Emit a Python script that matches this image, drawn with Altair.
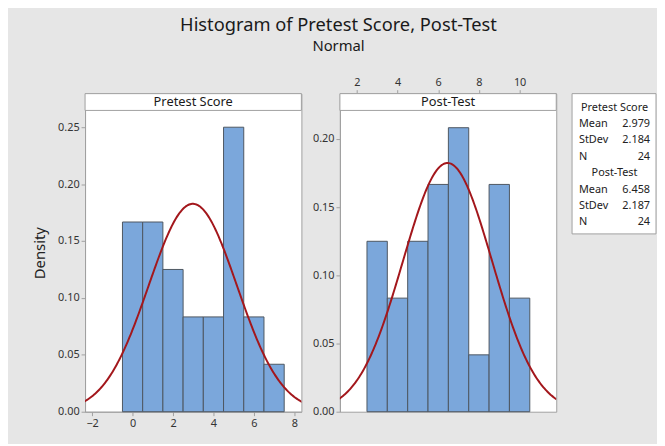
import altair as alt
import pandas as pd

# ---------------- data ----------------
pre_bins = [0, 1, 2, 3, 4, 5, 6, 7]
pre_density = [0.1667, 0.1667, 0.125, 0.0833, 0.0833, 0.25, 0.0833, 0.0417]
post_bins = [3, 4, 5, 6, 7, 8, 9, 10]
post_density = [0.125, 0.0833, 0.125, 0.1667, 0.2083, 0.0417, 0.1667, 0.0833]

series_names = ["Pretest Score", "Post-Test"]
series_means = [2.979, 6.458]
series_sds = [2.184, 2.187]
series_ns = [24, 24]

pre_xticks = [-2, 0, 2, 4, 6, 8]
post_xticks = [2, 4, 6, 8, 10]
pre_yticks = [0.0, 0.05, 0.10, 0.15, 0.20, 0.25]
post_yticks = [0.0, 0.05, 0.10, 0.15, 0.20]

pre_xdomain = [-2.35, 8.35]
post_xdomain = [1.17, 11.8]
pre_ydomain = [0, 0.2795]
post_ydomain = [0, 0.2333]

# ---------------- style ----------------
FONT = "Noto Sans"
BAR = "#7BA7DB"
EDGE = "#4D5661"
RED = "#A3171C"
FRAME = "#A0A0A0"
BG = "#E6E6E6"
PW, PH = 219, 322
HEAD = 17


def panel(name, bins, dens, mean, sd, xdom, ydom, xticks, yticks, xorient, ytitle):
    df = pd.DataFrame({"mid": bins, "density": dens})
    xs = alt.Scale(domain=xdom, nice=False, zero=False)
    ys = alt.Scale(domain=ydom, nice=False, zero=False)
    xaxis = alt.Axis(orient=xorient, values=xticks, title=None, format="d")
    yaxis = alt.Axis(values=yticks, format=".2f", title=ytitle)
    bars = (
        alt.Chart(df)
        .transform_calculate(lo="datum.mid - 0.5", hi="datum.mid + 0.5", zero="0")
        .mark_rect(fill=BAR, stroke=EDGE, strokeWidth=1)
        .encode(
            x=alt.X("lo:Q", scale=xs, axis=xaxis),
            x2="hi:Q",
            y=alt.Y("density:Q", scale=ys, axis=yaxis),
            y2="zero:Q",
        )
    )
    curve = (
        alt.Chart(alt.sequence(xdom[0] - 0.05, xdom[1] + 0.06, 0.05, as_="x"))
        .transform_calculate(
            d=f"exp(-0.5*pow((datum.x-({mean}))/{sd},2))/({sd}*sqrt(2*PI))"
        )
        .mark_line(color=RED, strokeWidth=2, clip=True)
        .encode(x=alt.X("x:Q", scale=xs, axis=xaxis),
                y=alt.Y("d:Q", scale=ys, axis=yaxis))
    )
    hdf = pd.DataFrame({"label": [name]})
    hrect = alt.Chart(hdf).mark_rect(fill="white", stroke=FRAME, strokeWidth=1).encode(
        x=alt.value(0), x2=alt.value(PW), y=alt.value(0), y2=alt.value(HEAD)
    )
    htext = alt.Chart(hdf).mark_text(
        font=FONT, fontSize=13, color="#1a1a1a", baseline="middle", align="center"
    ).encode(x=alt.value(PW / 2), y=alt.value(HEAD / 2 + 0.5), text="label:N")
    return alt.layer(bars, curve, hrect, htext).properties(
        width=PW, height=PH,
        view=alt.ViewBackground(fill="white", stroke=FRAME, strokeWidth=1),
    )


left = panel(series_names[0], pre_bins, pre_density, series_means[0], series_sds[0],
             pre_xdomain, pre_ydomain, pre_xticks, pre_yticks, "bottom", "Density")
right = panel(series_names[1], post_bins, post_density, series_means[1], series_sds[1],
              post_xdomain, post_ydomain, post_xticks, post_yticks, "top", None)

# ---------------- stats box ----------------
rows = []
r = 0
for nm, m, s, n in zip(series_names, series_means, series_sds, series_ns):
    rows.append({"row": r, "label": nm, "value": "", "kind": "head"})
    rows.append({"row": r + 1, "label": "Mean", "value": f"{m:.3f}", "kind": "item"})
    rows.append({"row": r + 2, "label": "StDev", "value": f"{s:.3f}", "kind": "item"})
    rows.append({"row": r + 3, "label": "N", "value": f"{n}", "kind": "item"})
    r += 4
sdf = pd.DataFrame(rows)
SX = 6  # box offset inside its (transparent) view
SW = 85
ysc = alt.Scale(domain=[-0.85, 7.7], reverse=True, nice=False, zero=False)
sbase = alt.Chart(sdf)
box = alt.Chart(pd.DataFrame({"k": [0]})).mark_rect(
    fill="white", stroke=FRAME, strokeWidth=1
).encode(x=alt.value(SX), x2=alt.value(SX + SW), y=alt.value(0), y2=alt.value(142))
heads = sbase.transform_filter("datum.kind == 'head'").mark_text(
    font=FONT, fontSize=11, color="#222", align="center", baseline="middle"
).encode(x=alt.value(SX + 43), y=alt.Y("row:Q", scale=ysc, axis=None), text="label:N")
labels = sbase.transform_filter("datum.kind == 'item'").mark_text(
    font=FONT, fontSize=11, color="#222", align="left", baseline="middle"
).encode(x=alt.value(SX + 7), y=alt.Y("row:Q", scale=ysc, axis=None), text="label:N")
values = sbase.transform_filter("datum.kind == 'item'").mark_text(
    font=FONT, fontSize=11, color="#222", align="right", baseline="middle"
).encode(x=alt.value(SX + 79), y=alt.Y("row:Q", scale=ysc, axis=None), text="value:N")
statbox = alt.layer(box, heads, labels, values).properties(
    width=SX + SW, height=142,
    view=alt.ViewBackground(fill=None, stroke=None),
)

chart = (
    alt.hconcat(left, right, statbox, spacing=9)
    .resolve_scale(x="independent", y="independent")
    .properties(
        title=alt.TitleParams(
            text="Histogram of Pretest Score, Post-Test",
            subtitle="Normal",
            font=FONT, subtitleFont=FONT,
            fontSize=18.5, subtitleFontSize=15,
            fontWeight="normal", color="#1a1a1a", subtitleColor="#1a1a1a",
            anchor="middle", offset=23, subtitlePadding=4, dx=-6,
        ),
        padding={"left": 24, "top": 6, "right": 0, "bottom": 12},
        background=BG,
    )
    .configure_axis(
        grid=False, domainColor=FRAME, tickColor=FRAME, tickSize=4,
        labelFont=FONT, labelFontSize=11, labelColor="#333",
        titleFont=FONT, titleFontSize=15, titleFontWeight="normal", titleColor="#222",
        labelPadding=2, titlePadding=10,
    )
)

chart.save("out.html", embed_options={"renderer": "svg", "actions": False})
